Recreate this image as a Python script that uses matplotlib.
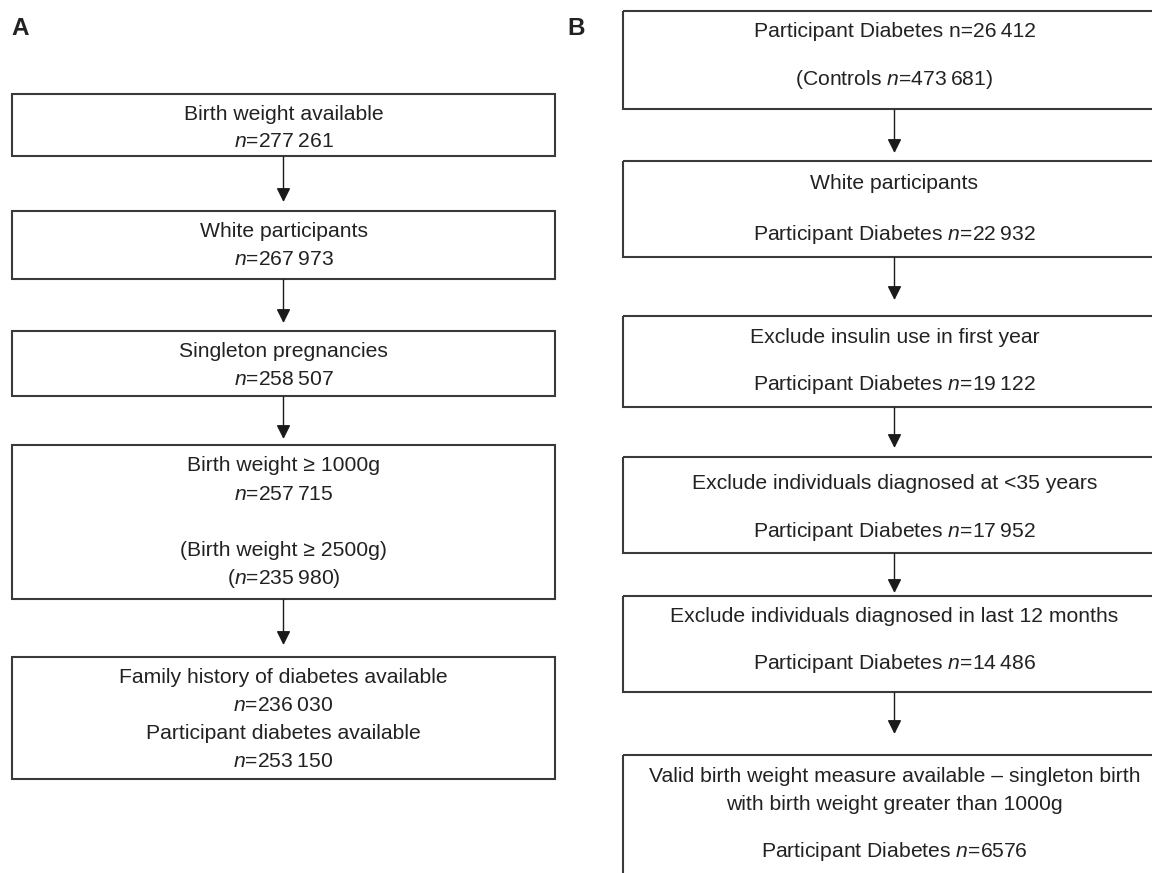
"""Flowchart of participant selection: (A) birth weight cohort, (B) diabetes cases."""

import matplotlib.pyplot as plt
from matplotlib.patches import Rectangle

plt.rcParams["font.family"] = ["Liberation Sans", "DejaVu Sans"]
plt.rcParams["mathtext.fontset"] = "custom"
plt.rcParams["mathtext.rm"] = "Liberation Sans"
plt.rcParams["mathtext.it"] = "Liberation Sans:italic"

# ---- data -------------------------------------------------------------
a_steps = ["Birth weight available", "White participants", "Singleton pregnancies",
           "Birth weight \u2265 1000g", "Family history of diabetes available"]
a_counts = [277261, 267973, 258507, 257715, 236030]
a_bw2500_label = "(Birth weight \u2265 2500g)"
a_bw2500_count = 235980
a_partdiab_label = "Participant diabetes available"
a_partdiab_count = 253150

b_steps = ["", "White participants", "Exclude insulin use in first year",
           "Exclude individuals diagnosed at <35 years",
           "Exclude individuals diagnosed in last 12 months",
           "Valid birth weight measure available \u2013 singleton birth",
           ]
b_step6_line2 = "with birth weight greater than 1000g"
b_counts = [26412, 22932, 19122, 17952, 14486, 6576]
b_controls = 473681

# ---- layout (pixels, figure is 1152 x 873) ----------------------------
A_X = (12, 555)
B_X = (623, 1166)
a_box_y = [(94, 156), (211, 279), (331, 396), (445, 599), (657, 779)]
a_line_y = [[113, 140], [230, 258], [350, 378], [464, 493, 549, 577], [676, 704, 732, 760]]
a_arrow_y = [(157, 202), (280, 323), (397, 439), (600, 645)]
b_box_y = [(11, 109), (161, 257), (316, 407), (457, 553), (596, 692), (755, 910)]
b_line_y = [[30, 78], [182, 233], [336, 383], [482, 530], [615, 662], [775, 803, 850]]
b_arrow_y = [(110, 153), (258, 300), (408, 448), (554, 593), (693, 734)]

TXT = "#222222"
EDGE = "#3a3a3a"
FS = 15.2
DY = 1.5  # small baseline nudge


def fmt(n):
    s = f"{n:,}" if n >= 10000 else str(n)
    return s.replace(",", "\u2009")


def n_eq(n):
    return r"$\it{n}$=" + fmt(n)


fig = plt.figure(figsize=(11.52, 8.73), dpi=100)
ax = fig.add_axes([0, 0, 1, 1])
ax.set_xlim(0, 1152)
ax.set_ylim(873, 0)
ax.axis("off")


def box(x, y, lines, ys):
    ax.add_patch(Rectangle((x[0], y[0]), x[1] - x[0], y[1] - y[0],
                           fill=False, edgecolor=EDGE, lw=1.5))
    cx = (x[0] + x[1]) / 2
    for t, yy in zip(lines, ys):
        ax.text(cx, yy + DY, t, ha="center", va="center", fontsize=FS, color=TXT)


def arrow(x, y):
    ax.annotate("", xy=(x, y[1]), xytext=(x, y[0]),
                arrowprops=dict(arrowstyle="-|>,head_length=0.4,head_width=0.2",
                                mutation_scale=21, color="#1a1a1a", lw=1.0,
                                shrinkA=0, shrinkB=0))


# Panel A
a_lines = [[s, n_eq(c)] for s, c in zip(a_steps, a_counts)]
a_lines[3] += [a_bw2500_label, "(" + n_eq(a_bw2500_count) + ")"]
a_lines[4] += [a_partdiab_label, n_eq(a_partdiab_count)]
for lines, yb, ys in zip(a_lines, a_box_y, a_line_y):
    box(A_X, yb, lines, ys)
ax_c = (A_X[0] + A_X[1]) / 2
for ya in a_arrow_y:
    arrow(ax_c, ya)

# Panel B
b_lines = [["Participant Diabetes n=" + fmt(b_counts[0]),
            "(Controls " + n_eq(b_controls) + ")"]]
for s, c in zip(b_steps[1:], b_counts[1:]):
    b_lines.append([s, "Participant Diabetes " + n_eq(c)])
b_lines[5].insert(1, b_step6_line2)
for lines, yb, ys in zip(b_lines, b_box_y, b_line_y):
    box(B_X, yb, lines, ys)
bx_c = (B_X[0] + B_X[1]) / 2
for yb in b_arrow_y:
    arrow(bx_c, yb)

# panel letters
ax.text(11, 35, "A", fontsize=17.5, fontweight="bold", color=TXT, ha="left", va="baseline")
ax.text(567, 35, "B", fontsize=17.5, fontweight="bold", color=TXT, ha="left", va="baseline")

fig.savefig("out.png", dpi=100)
plt.close(fig)
